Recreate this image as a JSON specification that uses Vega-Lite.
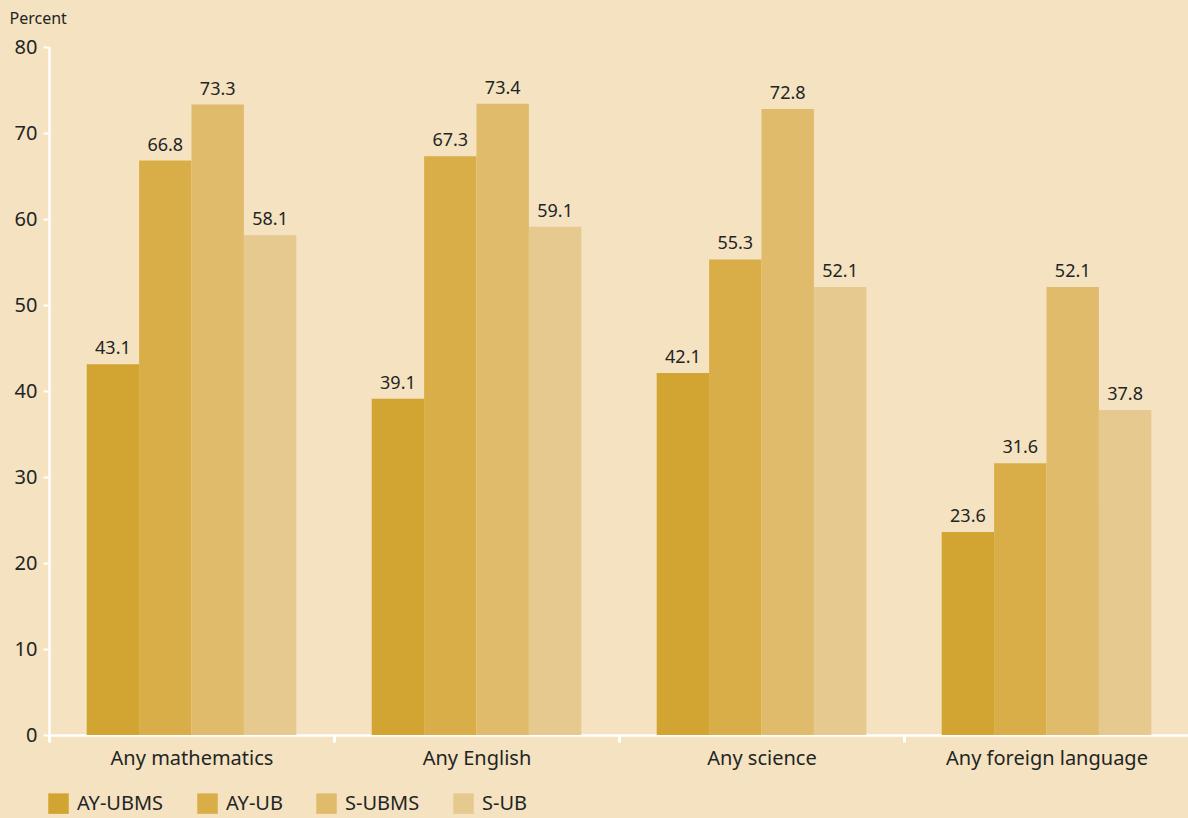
{
  "$schema": "https://vega.github.io/schema/vega-lite/v6.json",
  "width": 1140,
  "height": 688,
  "autosize": {"type": "none"},
  "padding": {"left": 49, "top": 47, "right": 0, "bottom": 83},
  "background": "#F4E2C0",
  "config": {
    "view": {"stroke": null},
    "font": "Noto Sans",
    "axis": {"labelColor": "#1f2526", "titleColor": "#1f2526", "labelFont": "Noto Sans", "titleFont": "Noto Sans"}
  },
  "data": {
    "values": [
      {"subject": "Any mathematics", "group": "AY-UBMS", "value": 43.1},
      {"subject": "Any mathematics", "group": "AY-UB", "value": 66.8},
      {"subject": "Any mathematics", "group": "S-UBMS", "value": 73.3},
      {"subject": "Any mathematics", "group": "S-UB", "value": 58.1},
      {"subject": "Any English", "group": "AY-UBMS", "value": 39.1},
      {"subject": "Any English", "group": "AY-UB", "value": 67.3},
      {"subject": "Any English", "group": "S-UBMS", "value": 73.4},
      {"subject": "Any English", "group": "S-UB", "value": 59.1},
      {"subject": "Any science", "group": "AY-UBMS", "value": 42.1},
      {"subject": "Any science", "group": "AY-UB", "value": 55.3},
      {"subject": "Any science", "group": "S-UBMS", "value": 72.8},
      {"subject": "Any science", "group": "S-UB", "value": 52.1},
      {"subject": "Any foreign language", "group": "AY-UBMS", "value": 23.6},
      {"subject": "Any foreign language", "group": "AY-UB", "value": 31.6},
      {"subject": "Any foreign language", "group": "S-UBMS", "value": 52.1},
      {"subject": "Any foreign language", "group": "S-UB", "value": 37.8}
    ]
  },
  "encoding": {
    "x": {
      "field": "subject", "type": "nominal",
      "sort": ["Any mathematics", "Any English", "Any science", "Any foreign language"],
      "scale": {"paddingInner": 0, "paddingOuter": 0},
      "axis": {
        "title": null, "labelAngle": 0, "labelFontSize": 20, "labelPadding": 6, "labelLimit": 0,
        "domainColor": "#ffffff", "domainWidth": 2.5,
        "tickColor": "#ffffff", "tickWidth": 3, "tickSize": 7, "tickBand": "extent"
      }
    },
    "xOffset": {
      "field": "group", "type": "nominal",
      "sort": ["AY-UBMS", "AY-UB", "S-UBMS", "S-UB"],
      "scale": {"paddingInner": 0, "paddingOuter": 0.72}
    },
    "y": {
      "field": "value", "type": "quantitative",
      "scale": {"domain": [0, 80]},
      "axis": {
        "title": "Percent", "titleAngle": 0, "titleAlign": "left", "titleBaseline": "middle",
        "titleX": -40, "titleY": -29, "titleFontSize": 16, "titleFontWeight": "normal",
        "labelFontSize": 20, "labelPadding": 6, "grid": false,
        "values": [0, 10, 20, 30, 40, 50, 60, 70, 80],
        "domainColor": "#ffffff", "domainWidth": 2.5,
        "tickColor": "#ffffff", "tickWidth": 2, "tickSize": 6
      }
    }
  },
  "layer": [
    {
      "mark": {"type": "bar"},
      "encoding": {
        "color": {
          "field": "group", "type": "nominal",
          "sort": ["AY-UBMS", "AY-UB", "S-UBMS", "S-UB"],
          "scale": {"domain": ["AY-UBMS", "AY-UB", "S-UBMS", "S-UB"], "range": ["#D2A431", "#D9AE48", "#E0BB6B", "#E6C98E"]},
          "legend": {
            "title": null, "orient": "none", "direction": "horizontal",
            "legendX": -1, "legendY": 746,
            "symbolType": "square", "symbolSize": 420, "symbolStrokeWidth": 0,
            "labelFontSize": 20, "labelColor": "#1f2526", "labelOffset": 8,
            "columnPadding": 33, "symbolOpacity": 1
          }
        }
      }
    },
    {
      "mark": {"type": "text", "baseline": "bottom", "dy": -6, "fontSize": 18, "color": "#1f2526"},
      "encoding": {
        "text": {"field": "value", "type": "quantitative", "format": ".1f"}
      }
    }
  ]
}
